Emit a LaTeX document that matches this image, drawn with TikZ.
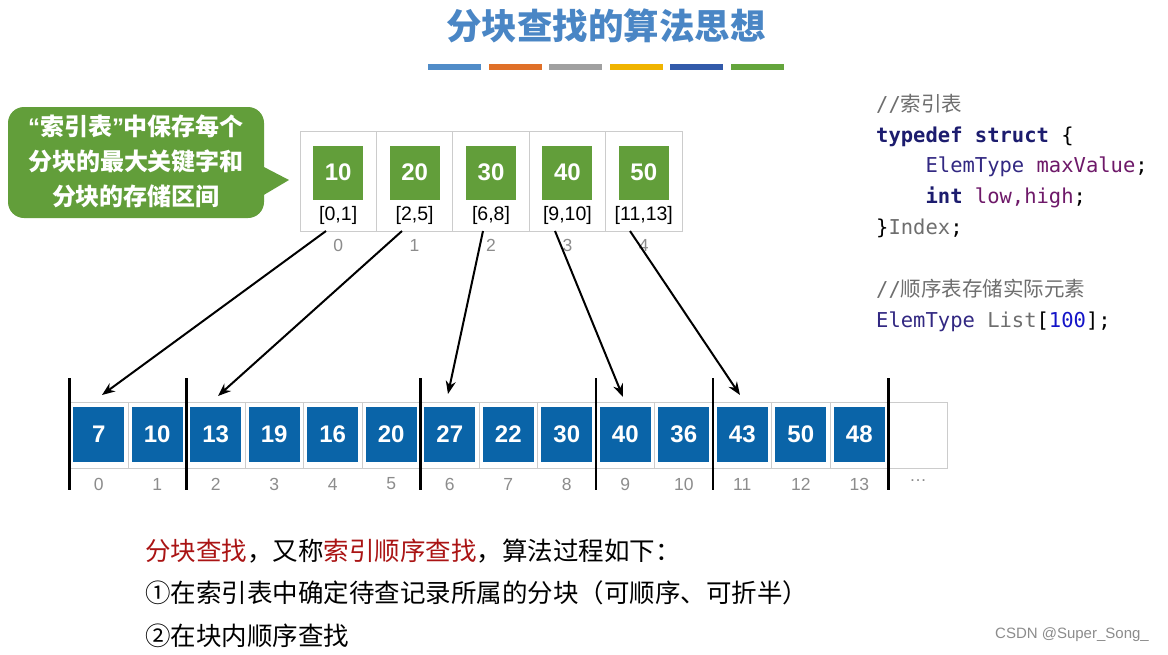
\documentclass[tikz,border=0pt]{standalone}
\usepackage{fontspec}
\setmainfont{Liberation Sans}
\setmonofont{DejaVu Sans Mono}
\newfontfamily\cjk{Noto Sans CJK SC}
\usetikzlibrary{arrows.meta,calc}
\definecolor{titleblue}{RGB}{74,134,197}
\definecolor{boxgreen}{RGB}{98,158,58}
\definecolor{boxblue}{RGB}{10,100,168}
\definecolor{bara}{RGB}{80,140,200}
\definecolor{barb}{RGB}{224,112,40}
\definecolor{barc}{RGB}{160,160,160}
\definecolor{bard}{RGB}{240,180,0}
\definecolor{bare}{RGB}{50,90,170}
\definecolor{barf}{RGB}{100,165,60}
\definecolor{kw}{RGB}{28,28,110}
\definecolor{ty}{RGB}{50,40,130}
\definecolor{var}{RGB}{110,25,105}
\definecolor{cmt}{RGB}{110,110,110}
\definecolor{num}{RGB}{20,20,200}
\definecolor{redtext}{RGB}{170,20,20}
\tikzset{
  tcell/.style={draw=black!20, line width=0.8pt, minimum width=76.4pt, minimum height=100pt, inner sep=0pt},
  gsq/.style={fill=boxgreen, minimum width=50pt, minimum height=54pt, inner sep=0pt, text=white, font=\bfseries\fontsize{24}{24}\selectfont},
  acell/.style={draw=black!20, line width=0.8pt, minimum width=58.5pt, minimum height=66pt, inner sep=0pt},
  bsq/.style={fill=boxblue, minimum width=51pt, minimum height=55pt, inner sep=0pt, text=white, font=\bfseries\fontsize{24}{24}\selectfont},
  idx/.style={text=black!45, font=\fontsize{17.5}{17.5}\selectfont, inner sep=0pt},
  rng/.style={font=\fontsize{19.5}{19.5}\selectfont, inner sep=0pt},
  divider/.style={line width=2.4pt, black},
  ptr/.style={line width=2pt, -{Stealth[length=13pt,width=10pt]}},
  code/.style={anchor=base west, inner sep=0pt, font=\ttfamily\fontsize{20.5}{20.5}\selectfont},
  body/.style={anchor=base west, inner sep=0pt, font=\cjk\fontsize{25.5}{25.5}\selectfont}
}
\begin{document}
\begin{tikzpicture}[x=1pt,y=-1pt]
\useasboundingbox (0,0) rectangle (1168,654);
\fill[white] (0,0) rectangle (1168,654);

% title
\node[font=\cjk\bfseries\fontsize{35.5}{35.5}\selectfont, text=titleblue, inner sep=0pt] (title) at (606,26) {分块查找的算法思想};
\foreach \c [count=\i from 0] in {bara,barb,barc,bard,bare,barf}
  \fill[\c] (428+60.5*\i,64) rectangle ++(53,6);

% callout
\fill[boxgreen, rounded corners=16pt] (8,107) rectangle (264,218);
\fill[boxgreen] (262,166) -- (289,180) -- (262,196) -- cycle;
\node[text=white, align=center, font=\cjk\bfseries\fontsize{24}{35}\selectfont, inner sep=0pt] (callout) at (136,161)
  {{\rmfamily\bfseries “}索引表{\rmfamily\bfseries ”}中保存每个\\分块的最大关键字和\\分块的存储区间};

% index table
\foreach \v/\r [count=\i from 0] in {10/{[0,1]},20/{[2,5]},30/{[6,8]},40/{[9,10]},50/{[11,13]}}{
  \node[tcell] (t\i) at (338.2+76.4*\i,181) {};
  \node[gsq] (g\i) at (338.2+76.4*\i,172.5) {\v};
  \node[rng] (l\i) at (338.2+76.4*\i,215) {\r};
  \node[idx] (ti\i) at (338.2+76.4*\i,245) {\i};
}

% array
\foreach \v [count=\i from 0] in {7,10,13,19,16,20,27,22,30,40,36,43,50,48}{
  \node[acell] (c\i) at (98.75+58.5*\i,435) {};
  \node[bsq] (b\i) at (98.75+58.5*\i,434.5) {\v};
  \node[idx] (ai\i) at (98.75+58.5*\i,484) {\i};
}
\node[acell] (c14) at (98.75+58.5*14,435) {};
\node[idx] (dots) at (918,481) {\dots};

\foreach \k in {0,2,6,9,11,14}
  \draw[divider] (69.5+58.5*\k,378) -- (69.5+58.5*\k,490);

% pointers
\coordinate (s0) at (326,231); \coordinate (e0) at (102,395);
\coordinate (s1) at (402,231); \coordinate (e1) at (218,396);
\coordinate (s2) at (483,231); \coordinate (e2) at (448,394);
\coordinate (s3) at (555,231); \coordinate (e3) at (623,397);
\coordinate (s4) at (630,231); \coordinate (e4) at (740,395);
\foreach \i in {0,...,4} \draw[ptr] (s\i) -- (e\i);

% code
\node[code, text=cmt] (k1) at (876,111) {//{\cjk 索引表}};
\node[code] (k2) at (876,142) {\textcolor{kw}{\bfseries typedef struct} \{};
\node[code] (k3) at (876,172) {\hphantom{xxxx}\textcolor{ty}{ElemType} \textcolor{var}{maxValue};};
\node[code] (k4) at (876,203) {\hphantom{xxxx}\textcolor{kw}{\bfseries int} \textcolor{var}{low,high};};
\node[code] (k5) at (876,234) {\}\textcolor{cmt}{Index};};
\node[code, text=cmt] (k6) at (876,296) {//{\cjk 顺序表存储实际元素}};
\node[code] (k7) at (876,327) {\textcolor{ty}{ElemType} \textcolor{cmt}{List}[\textcolor{num}{100}];};

% body text
\node[body] (p1) at (145,560) {\textcolor{redtext}{分块查找}，又称\textcolor{redtext}{索引顺序查找}，算法过程如下：};
\node[body] (p2) at (145,602) {①在索引表中确定待查记录所属的分块（可顺序、可折半）};
\node[body] (p3) at (145,645) {②在块内顺序查找};

\node[text=black!45, font=\fontsize{15}{15}\selectfont, inner sep=0pt] (wm) at (1072,635) {CSDN @Super\_Song\_};
\end{tikzpicture}
\end{document}
